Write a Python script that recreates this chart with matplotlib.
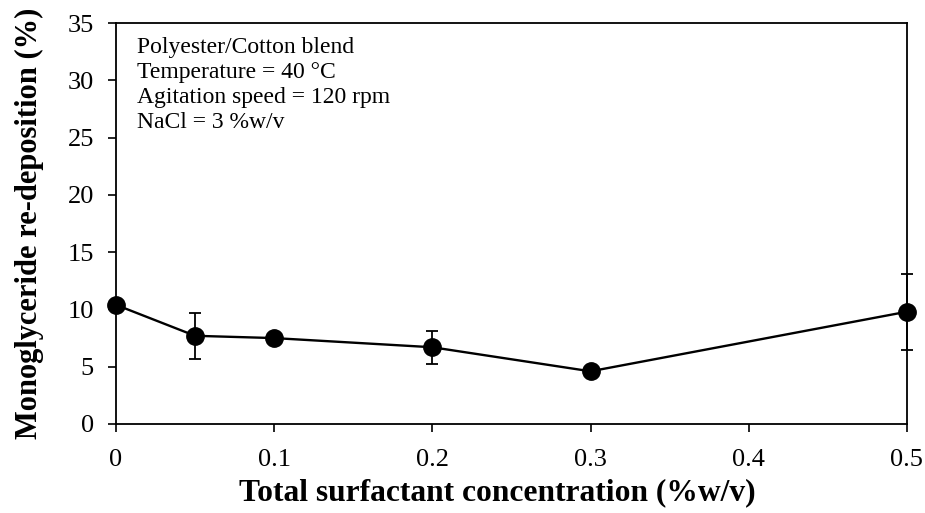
import matplotlib
matplotlib.use("Agg")
import matplotlib.pyplot as plt
from matplotlib.ticker import FuncFormatter

plt.rcParams['font.family'] = ['Liberation Serif', 'DejaVu Serif']

# Re-deposition data
concentration = [0.0, 0.05, 0.1, 0.2, 0.3, 0.5]
redeposition = [10.4, 7.7, 7.5, 6.7, 4.6, 9.8]
err_upper = [0.0, 2.0, 0.0, 1.45, 0.0, 3.3]
err_lower = [0.0, 2.0, 0.0, 1.45, 0.0, 3.3]

x_ticks = [0, 0.1, 0.2, 0.3, 0.4, 0.5]
y_ticks = [0, 5, 10, 15, 20, 25, 30, 35]

conditions = [
    "Polyester/Cotton blend",
    "Temperature = 40 \u00b0C",
    "Agitation speed = 120 rpm",
    "NaCl = 3 %w/v",
]

fig = plt.figure(figsize=(9.25, 5.13), dpi=100)
ax = fig.add_axes([0.1254, 0.1735, 0.855, 0.7815])

ax.errorbar(concentration, redeposition, yerr=[err_lower, err_upper],
            color='black', marker='o', markersize=12.5, linewidth=1.7,
            elinewidth=1.3, capsize=4, capthick=1.3, clip_on=False, zorder=3)

ax.set_xlim(0, 0.5)
ax.set_ylim(0, 35)
ax.set_xticks(x_ticks)
ax.set_yticks(y_ticks)
ax.xaxis.set_major_formatter(FuncFormatter(lambda v, p: "0" if v == 0 else f"{v:g}"))
ax.tick_params(axis='both', direction='out', length=6, width=1.2,
               labelsize=19, top=False, right=False)
ax.tick_params(axis='y', pad=10)
ax.tick_params(axis='x', pad=12)

for s in ax.spines.values():
    s.set_linewidth(1.3)

ax.set_xlabel("Total surfactant concentration (%w/v)", fontsize=22.7,
              fontweight='bold')
ax.xaxis.set_label_coords(0.482, -0.135, transform=ax.transAxes)
ax.xaxis.label.set_va('top')
ax.set_ylabel("Monoglyceride re-deposition (%)", fontsize=22,
              fontweight='bold', labelpad=17)

ax.text(0.026, 0.965, "\n".join(conditions), transform=ax.transAxes,
        va='top', ha='left', fontsize=17, linespacing=1.25)

fig.savefig("out.png", dpi=100)
